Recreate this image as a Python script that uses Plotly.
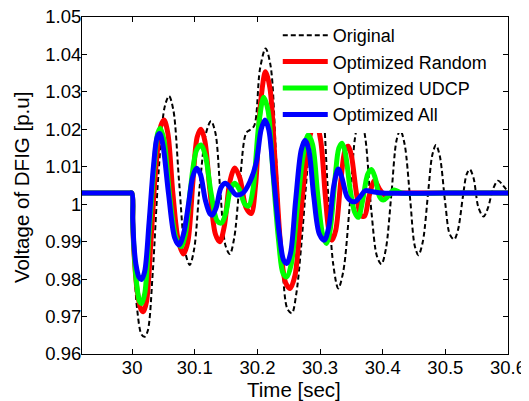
import plotly.graph_objects as go

# Original (black dashed)
orig_t = [29.92, 29.98, 29.995, 29.9995, 30.001, 30.003, 30.008, 30.015, 30.02, 30.025, 30.033, 30.042, 30.052, 30.059, 30.066,
          30.075, 30.085, 30.092, 30.099, 30.108, 30.118, 30.126, 30.133, 30.141, 30.149, 30.156, 30.163, 30.172, 30.182,
          30.188, 30.195, 30.204, 30.213, 30.221, 30.23, 30.24, 30.248, 30.255, 30.262, 30.27, 30.279, 30.288, 30.296,
          30.304, 30.312, 30.321, 30.329, 30.337, 30.347, 30.356, 30.364, 30.372, 30.382, 30.391, 30.398, 30.405, 30.414,
          30.422, 30.428, 30.435, 30.444, 30.451, 30.457, 30.464, 30.473, 30.479, 30.485, 30.491, 30.5, 30.507, 30.514,
          30.52, 30.528, 30.534, 30.539, 30.545, 30.553, 30.561, 30.568, 30.576, 30.584, 30.592, 30.6]
orig_v = [1.003, 1.003, 1.003, 1.003, 0.995, 0.985, 0.972, 0.9652, 0.9646, 0.9662, 0.982, 1.008, 1.026, 1.0289, 1.025,
          1.006, 0.987, 0.9838, 0.988, 1.005, 1.019, 1.0222, 1.019, 1.003, 0.989, 0.9867, 0.991, 1.006, 1.019,
          1.0198, 1.021, 1.036, 1.0416, 1.037, 1.012, 0.983, 0.972, 0.9709, 0.976, 0.989, 1.008, 1.025, 1.029,
          1.025, 1.005, 0.984, 0.9775, 0.982, 0.999, 1.018, 1.024, 1.018, 0.998, 0.986, 0.984, 0.988, 1.003,
          1.017, 1.0198, 1.016, 1.001, 0.989, 0.9864, 0.99, 1.004, 1.013, 1.0158, 1.013, 1.0, 0.992, 0.9906,
          0.993, 1.002, 1.008, 1.0093, 1.007, 0.999, 0.9967, 0.999, 1.004, 1.0063, 1.005, 1.0033]

# Optimized Random (red)
rand_t = [29.92, 29.98, 29.995, 29.9995, 30.001, 30.003, 30.008, 30.014, 30.018, 30.023, 30.03, 30.038, 30.046, 30.051,
          30.057, 30.065, 30.074, 30.082, 30.089, 30.097, 30.104, 30.11, 30.116, 30.124, 30.133, 30.14, 30.147, 30.156,
          30.164, 30.172, 30.182, 30.19, 30.197, 30.205, 30.213, 30.22, 30.228, 30.238, 30.245, 30.252, 30.26, 30.268,
          30.278, 30.287, 30.294, 30.301, 30.308, 30.314, 30.319, 30.325, 30.333, 30.34, 30.345, 30.35, 30.358, 30.365,
          30.371, 30.378, 30.387, 30.395, 30.405, 30.415, 30.43, 30.5, 30.6]
rand_v = [1.003, 1.003, 1.003, 1.003, 0.995, 0.987, 0.977, 0.972, 0.9713, 0.974, 0.99, 1.01, 1.021, 1.0225,
          1.019, 1.003, 0.99, 0.9867, 0.99, 1.006, 1.018, 1.02, 1.017, 1.004, 0.992, 0.99, 0.994, 1.006,
          1.0097, 1.007, 0.999, 0.9975, 1.005, 1.027, 1.0354, 1.031, 1.012, 0.987, 0.979, 0.9775, 0.981, 0.995,
          1.012, 1.02, 1.0215, 1.017, 1.003, 0.993, 0.9904, 0.993, 1.006, 1.0145, 1.0155, 1.013, 1.003, 0.997,
          0.9968, 1.002, 1.0063, 1.004, 1.0022, 1.003, 1.003, 1.003, 1.003]

# Optimized UDCP (green)
udcp_t = [29.92, 29.98, 29.995, 29.9995, 30.001, 30.003, 30.007, 30.012, 30.015, 30.02, 30.027, 30.035, 30.041, 30.045,
          30.051, 30.06, 30.07, 30.078, 30.085, 30.093, 30.103, 30.11, 30.117, 30.126, 30.136, 30.143, 30.15, 30.157,
          30.164, 30.171, 30.18, 30.186, 30.193, 30.202, 30.21, 30.217, 30.225, 30.234, 30.241, 30.247, 30.254, 30.263,
          30.273, 30.281, 30.288, 30.296, 30.304, 30.31, 30.316, 30.324, 30.33, 30.335, 30.34, 30.348, 30.355, 30.361,
          30.368, 30.376, 30.382, 30.388, 30.395, 30.401, 30.408, 30.418, 30.43, 30.5, 30.6]
udcp_v = [1.003, 1.003, 1.003, 1.003, 0.995, 0.988, 0.979, 0.974, 0.9735, 0.976, 0.992, 1.01, 1.019, 1.0203,
          1.017, 1.002, 0.991, 0.9887, 0.992, 1.004, 1.0145, 1.0158, 1.013, 1.003, 0.9955, 0.995, 0.998, 1.004,
          1.0056, 1.004, 1.0, 0.9995, 1.004, 1.021, 1.0286, 1.025, 1.008, 0.99, 0.9815, 0.9806, 0.984, 0.998,
          1.013, 1.0185, 1.016, 1.003, 0.992, 0.9895, 0.993, 1.007, 1.015, 1.0163, 1.014, 1.004, 0.998, 0.9965,
          1.001, 1.008, 1.0093, 1.007, 1.002, 1.0011, 1.002, 1.0038, 1.003, 1.003, 1.003]

# Optimized All (blue)
all_t = [29.92, 29.98, 29.995, 29.9995, 30.001, 30.003, 30.006, 30.011, 30.015, 30.02, 30.027, 30.034, 30.04, 30.044,
         30.049, 30.058, 30.068, 30.075, 30.082, 30.09, 30.097, 30.103, 30.109, 30.117, 30.124, 30.128, 30.134, 30.142,
         30.149, 30.156, 30.166, 30.177, 30.188, 30.198, 30.206, 30.212, 30.218, 30.226, 30.235, 30.242, 30.247, 30.253,
         30.261, 30.27, 30.276, 30.282, 30.29, 30.299, 30.307, 30.314, 30.322, 30.329, 30.335, 30.343, 30.35, 30.356,
         30.364, 30.372, 30.382, 30.4, 30.5, 30.6]
all_v = [1.003, 1.003, 1.003, 1.003, 0.996, 0.989, 0.984, 0.9805, 0.9799, 0.982, 0.995, 1.01, 1.018, 1.0189,
         1.016, 1.003, 0.991, 0.9891, 0.992, 1.0, 1.0075, 1.0096, 1.008, 1.001, 0.9975, 0.9971, 0.999, 1.0045,
         1.0056, 1.0045, 1.0025, 1.003, 1.006, 1.011, 1.02, 1.0225, 1.02, 1.007, 0.992, 0.985, 0.9842, 0.987,
         1.001, 1.0145, 1.0171, 1.0145, 1.002, 0.992, 0.9904, 0.994, 1.005, 1.0094, 1.007, 1.002, 1.0008, 1.0007,
         1.002, 1.0036, 1.0034, 1.003, 1.003, 1.003]

x_ticks = [30, 30.1, 30.2, 30.3, 30.4, 30.5, 30.6]
x_labels = ["30", "30.1", "30.2", "30.3", "30.4", "30.5", "30.6"]
y_ticks = [0.96, 0.97, 0.98, 0.99, 1.0, 1.01, 1.02, 1.03, 1.04, 1.05]
y_labels = ["0.96", "0.97", "0.98", "0.99", "1", "1.01", "1.02", "1.03", "1.04", "1.05"]

FONT = "Liberation Sans, Arial, sans-serif"

fig = go.Figure()
fig.add_trace(go.Scatter(x=orig_t, y=orig_v, mode="lines", name="Original", legendgroup="a",
                         line=dict(color="black", width=2, dash="5px,3px", shape="spline", smoothing=0.9)))
fig.add_trace(go.Scatter(x=rand_t, y=rand_v, mode="lines", name="Optimized Random", legendgroup="b",
                         line=dict(color="#FF0000", width=5, shape="spline", smoothing=0.9)))
fig.add_trace(go.Scatter(x=udcp_t, y=udcp_v, mode="lines", name="Optimized UDCP", legendgroup="c",
                         line=dict(color="#00FF00", width=5, shape="spline", smoothing=0.9)))
fig.add_trace(go.Scatter(x=all_t, y=all_v, mode="lines", name="Optimized All", legendgroup="d",
                         line=dict(color="#0000FF", width=5, shape="spline", smoothing=0.9)))

axis_common = dict(showline=True, linecolor="black", linewidth=1, mirror="allticks", ticks="inside",
                   ticklen=5, tickcolor="black", showgrid=False, zeroline=False, automargin=False,
                   ticklabeloverflow="allow",
                   tickfont=dict(family=FONT, size=18.5, color="black"))

fig.update_xaxes(range=[29.92, 30.6], tickvals=x_ticks, ticktext=x_labels, ticklabelstandoff=-3, **axis_common)
fig.update_yaxes(range=[0.96, 1.05], tickvals=y_ticks, ticktext=y_labels, ticklabelstandoff=-4, **axis_common)

# The page body adds an 8px offset, so every position is shifted back by 8px.
W, H = 529, 401
OFF = 8
L, R, T, B = 82 - OFF, W - (508.5 - OFF), 17 - OFF, H - (354 - OFF)
pw, ph = W - L - R, H - T - B


def px_x(px):
    return (px - OFF - L) / pw


def px_y(py):
    return (H - B - (py - OFF)) / ph


fig.update_layout(
    width=W, height=H,
    margin=dict(l=L, r=R, t=T, b=B, autoexpand=False),
    paper_bgcolor="white", plot_bgcolor="white",
    showlegend=True,
    legend=dict(x=px_x(278), y=px_y(17), xanchor="left", yanchor="top", bgcolor="white",
                borderwidth=0, itemwidth=45,
                font=dict(family=FONT, size=18, color="black"), tracegroupgap=0, traceorder="grouped"),
    annotations=[
        dict(text="Time [sec]", x=px_x(294), y=px_y(390), xref="paper", yref="paper",
             showarrow=False, yanchor="middle", xanchor="center",
             font=dict(family=FONT, size=20.5, color="black")),
        dict(text="Voltage of DFIG [p.u]", x=px_x(21), y=px_y(188), xref="paper", yref="paper",
             showarrow=False, textangle=-90, yanchor="middle", xanchor="center",
             font=dict(family=FONT, size=20.5, color="black")),
    ],
)

fig.write_html("out.html")
